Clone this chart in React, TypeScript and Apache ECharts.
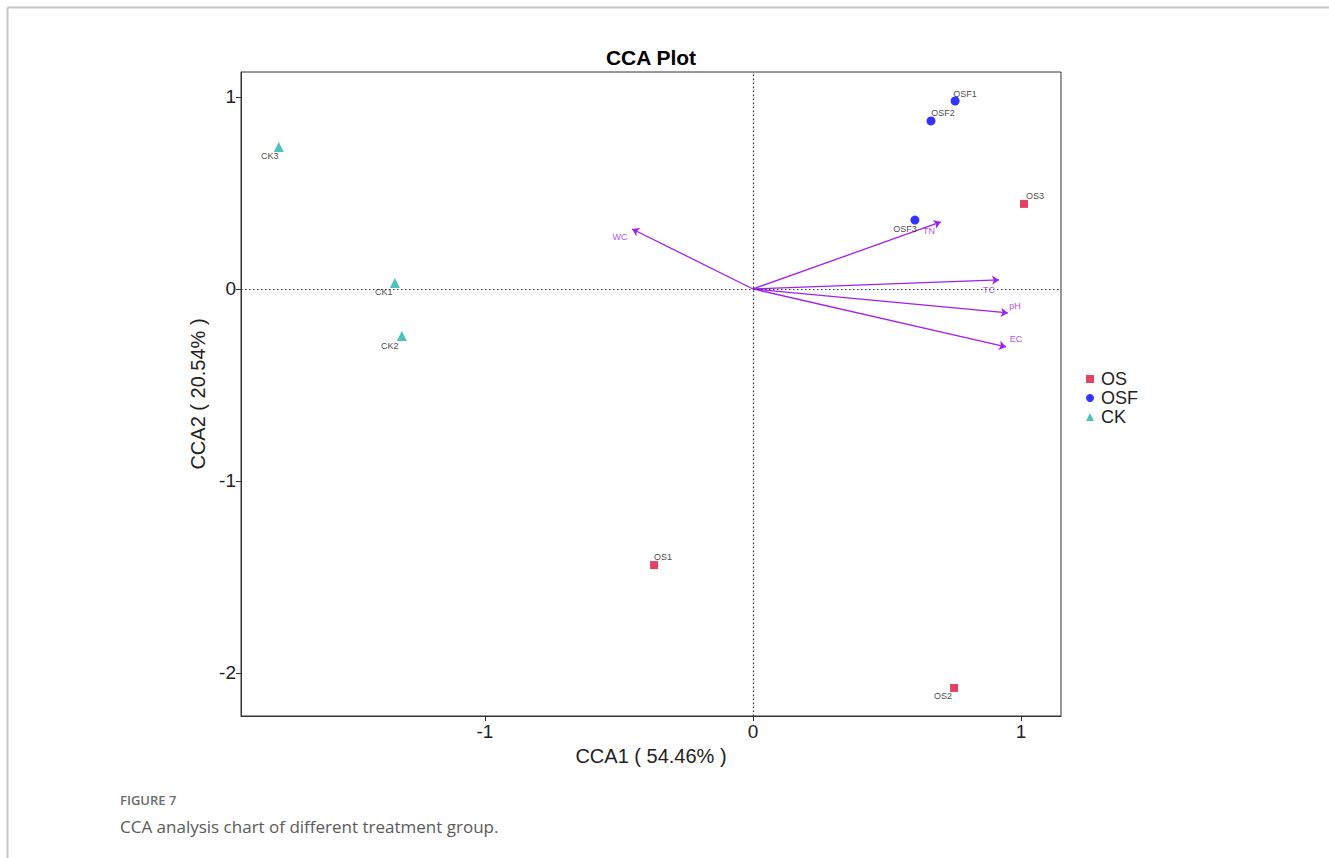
import React, { useEffect, useRef } from "react";
import * as echarts from "echarts";

// ---- data ----
const osNames = ["OS1", "OS2", "OS3"];
const osX = [-0.369, 0.75, 1.011];
const osY = [-1.438, -2.078, 0.443];

const osfNames = ["OSF1", "OSF2", "OSF3"];
const osfX = [0.754, 0.664, 0.604];
const osfY = [0.979, 0.875, 0.359];

const ckNames = ["CK1", "CK2", "CK3"];
const ckX = [-1.336, -1.31, -1.769];
const ckY = [0.031, -0.245, 0.74];

const envNames = ["WC", "TN", "TC", "pH", "EC"];
const envX = [-0.451, 0.701, 0.918, 0.951, 0.944];
const envY = [0.3125, 0.349, 0.047, -0.125, -0.302];

const xTicks = [-1, 0, 1];
const yTicks = [-2, -1, 0, 1];

// ---- label styling offsets (pixels) ----
const osLabelOffsets = [[9, -8], [-11, 8], [11, -8]];
const osfLabelOffsets = [[10, -7], [12, -8], [-10, 9]];
const ckLabelOffsets = [[-11, 9], [-12, 10], [-9, 9]];
const envLabelOffsets = [[-12, 8], [-12, 9], [-10, 10], [7, -7], [10, -8]];

const C_OS = "#DC143C";
const C_OSF = "#0000FF";
const C_CK = "#20B2AA";
const C_ENV = "#A020F0";
const AXIS_FONT = "'Liberation Sans', Arial, sans-serif";

function pts(names: string[], xs: number[], ys: number[], offs: number[][]) {
  return names.map((n, i) => ({
    name: n,
    value: [xs[i], ys[i]],
    label: { offset: offs[i] },
  }));
}

export default function App() {
  const ref = useRef<HTMLDivElement>(null);
  useEffect(() => {
    if (!ref.current) return;
    const chart = echarts.init(ref.current, null, { renderer: "svg" });
    const ptLabel = {
      show: true,
      position: "inside",
      formatter: "{b}",
      color: "#111",
      fontSize: 9,
      fontFamily: "'Liberation Sans', Arial, sans-serif",
    };
    const option: any = {
      animation: false,
      backgroundColor: "#fff",
      grid: {
        left: 241,
        top: 72,
        width: 820,
        height: 644,
        show: true,
        borderColor: "#333",
        borderWidth: 1,
        backgroundColor: "transparent",
      },
      xAxis: {
        type: "value",
        min: -1.91,
        max: 1.149,
        name: "CCA1 ( 54.46% )",
        nameLocation: "middle",
        nameGap: 26,
        nameTextStyle: { fontSize: 20, color: "#222", fontFamily: AXIS_FONT },
        axisLine: { show: true, onZero: false, lineStyle: { color: "#333" } },
        axisTick: { show: true, length: 5, customValues: xTicks, lineStyle: { color: "#333" } },
        axisLabel: { customValues: xTicks, fontSize: 19, color: "#222", margin: 6, fontFamily: AXIS_FONT },
        splitLine: { show: false },
      },
      yAxis: {
        type: "value",
        min: -2.224,
        max: 1.13,
        name: "CCA2 ( 20.54% )",
        nameLocation: "middle",
        nameGap: 33,
        nameRotate: 90,
        nameTextStyle: { fontSize: 20, color: "#222", fontFamily: AXIS_FONT },
        axisLine: { show: true, onZero: false, lineStyle: { color: "#333" } },
        axisTick: { show: true, length: 5, customValues: yTicks, lineStyle: { color: "#333" } },
        axisLabel: { customValues: yTicks, fontSize: 19, color: "#222", margin: 5, fontFamily: AXIS_FONT },
        splitLine: { show: false },
      },
      legend: {
        orient: "vertical",
        left: 1081,
        top: 365,
        itemWidth: 8,
        itemHeight: 8,
        itemGap: 1,
        textStyle: { fontSize: 18, color: "#222", fontFamily: "'Liberation Sans', Arial, sans-serif", padding: [0, 0, 0, 2] },
        data: [
          { name: "OS", icon: "rect" },
          { name: "OSF", icon: "circle" },
          { name: "CK", icon: "triangle" },
        ],
      },
      graphic: [
        {
          type: "text",
          style: {
            text: "CCA Plot",
            x: 651,
            y: 57,
            align: "center",
            verticalAlign: "middle",
            font: "bold 21px 'Liberation Sans', Arial, sans-serif",
            fill: "#000",
          },
        },
        {
          type: "line",
          shape: { x1: 7.5, y1: 7.5, x2: 1329, y2: 7.5 },
          style: { stroke: "#c8c8c8", lineWidth: 2 },
        },
        {
          type: "line",
          shape: { x1: 7.5, y1: 7.5, x2: 7.5, y2: 858 },
          style: { stroke: "#c8c8c8", lineWidth: 2 },
        },
        {
          type: "text",
          style: {
            text: "FIGURE 7",
            x: 120,
            y: 800,
            verticalAlign: "middle",
            font: "600 13px 'Open Sans', sans-serif",
            fill: "#6b6b6b",
          },
        },
        {
          type: "text",
          style: {
            text: "CCA analysis chart of different treatment group.",
            x: 120,
            y: 826,
            verticalAlign: "middle",
            font: "17px 'Open Sans', sans-serif",
            fill: "#5a5a5a",
          },
        },
      ],
      series: [
        {
          type: "line",
          data: [],
          silent: true,
          markLine: {
            silent: true,
            symbol: ["none", "none"],
            label: { show: false },
            lineStyle: { type: [1.5, 2.5], color: "#333", width: 1.2 },
            data: [{ xAxis: 0 }, { yAxis: 0 }],
          },
        },
        {
          type: "lines",
          coordinateSystem: "cartesian2d",
          silent: true,
          symbol: ["none", "arrow"],
          symbolSize: [0, 7],
          lineStyle: { color: C_ENV, width: 1.3, opacity: 1 },
          data: envNames.map((n, i) => ({ name: n, coords: [[0, 0], [envX[i], envY[i]]] })),
        },
        {
          type: "scatter",
          name: "envLabels",
          symbolSize: 0,
          silent: true,
          label: {
            show: true,
            position: "inside",
            formatter: "{b}",
            color: C_ENV,
            fontSize: 9,
            fontFamily: "'Liberation Sans', Arial, sans-serif",
          },
          data: envNames.map((n, i) => ({
            name: n,
            value: [envX[i], envY[i]],
            label: { offset: envLabelOffsets[i] },
          })),
        },
        {
          type: "scatter",
          name: "OS",
          symbol: "rect",
          symbolSize: 8,
          itemStyle: { color: C_OS },
          label: ptLabel,
          data: pts(osNames, osX, osY, osLabelOffsets),
        },
        {
          type: "scatter",
          name: "OSF",
          symbol: "circle",
          symbolSize: 9,
          itemStyle: { color: C_OSF },
          label: ptLabel,
          data: pts(osfNames, osfX, osfY, osfLabelOffsets),
        },
        {
          type: "scatter",
          name: "CK",
          symbol: "triangle",
          symbolSize: 10,
          itemStyle: { color: C_CK },
          label: ptLabel,
          data: pts(ckNames, ckX, ckY, ckLabelOffsets),
        },
      ],
    };
    chart.setOption(option);
    return () => chart.dispose();
  }, []);
  return (
    <div style={{ position: "fixed", left: 0, top: 0, width: 1329, height: 858, background: "#fff" }}>
      <div ref={ref} style={{ width: 1329, height: 858 }} />
    </div>
  );
}
